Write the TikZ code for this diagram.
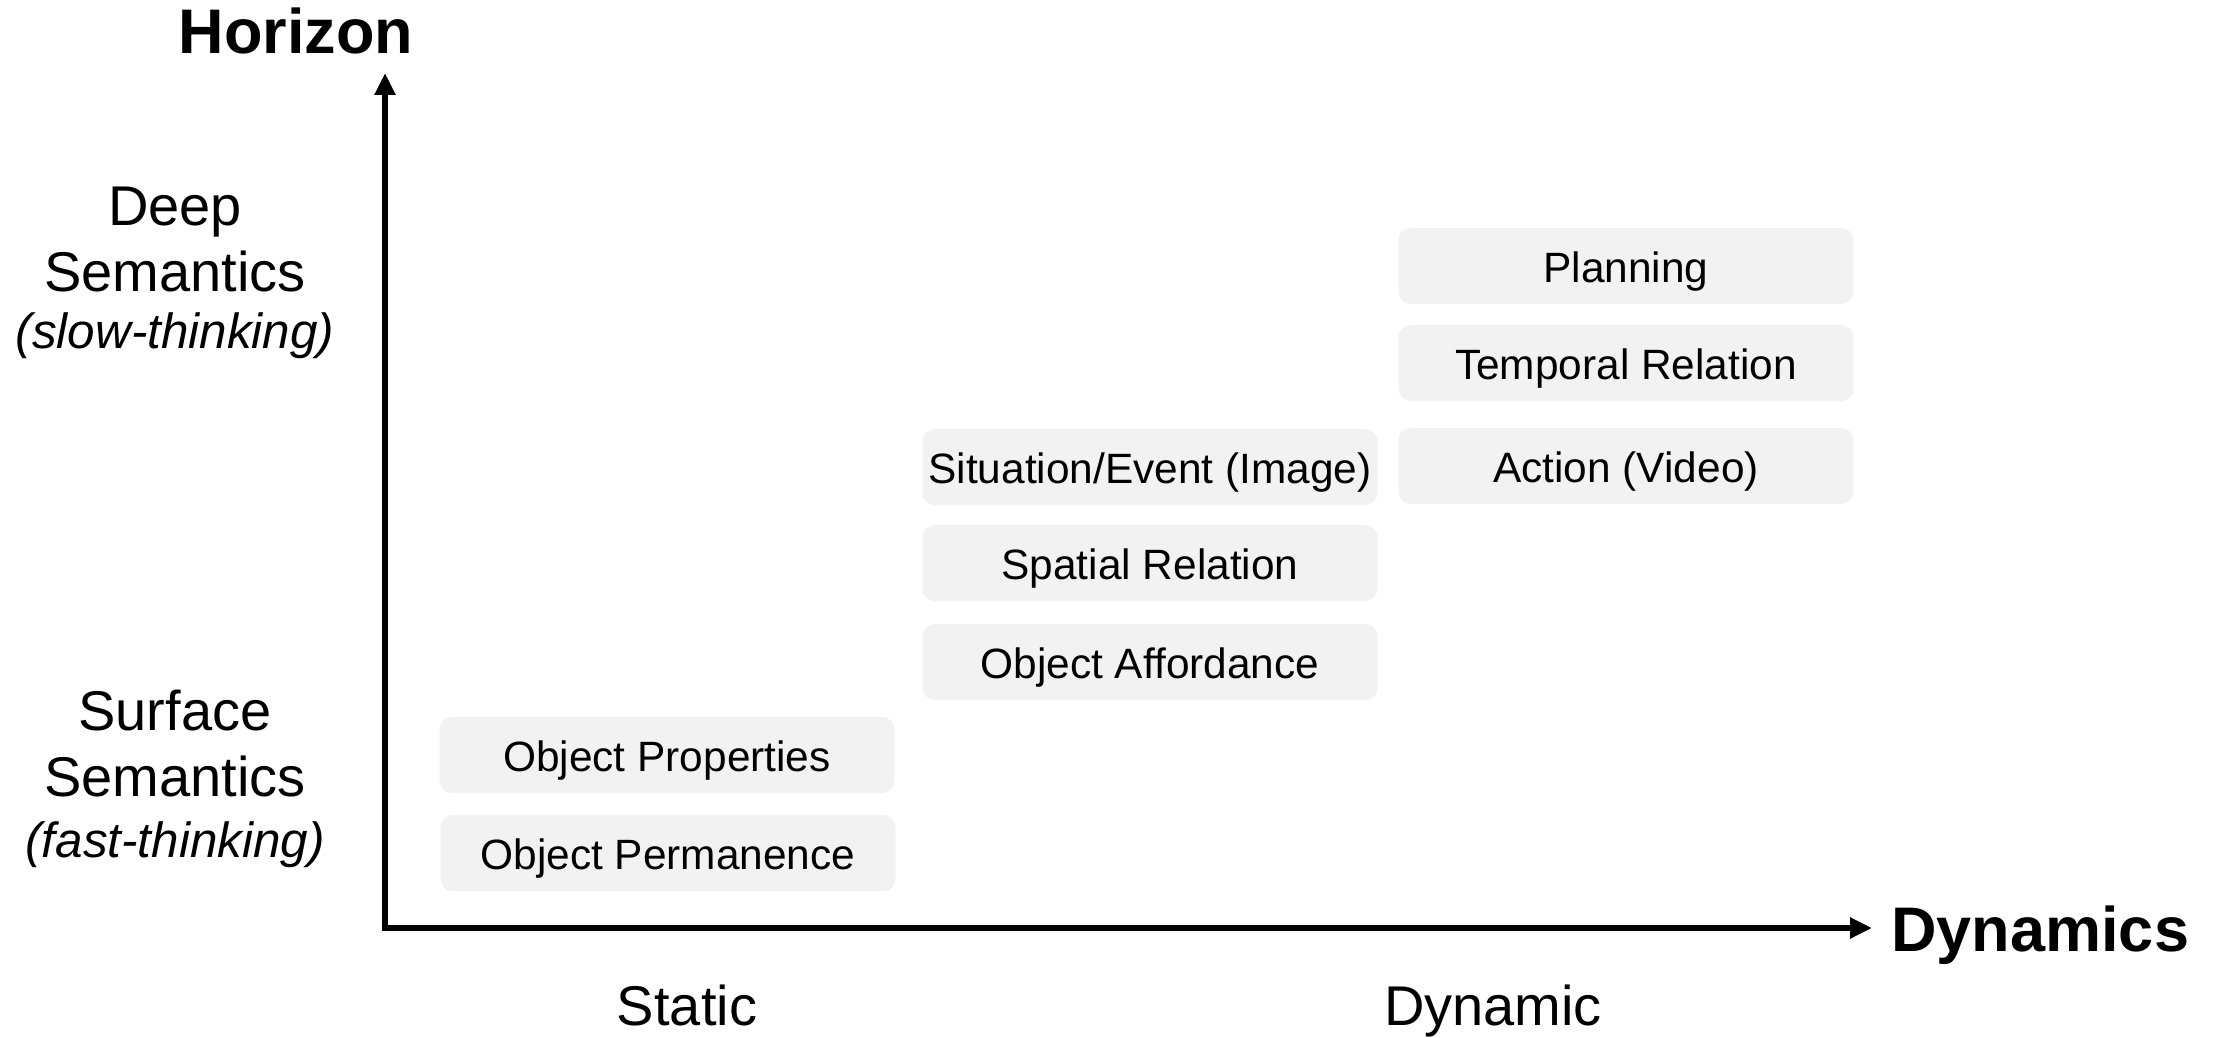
\documentclass[tikz,border=0pt]{standalone}
\usepackage{fontspec}
\setmainfont{Liberation Sans}
\usetikzlibrary{arrows.meta}
\definecolor{boxgray}{HTML}{F2F2F2}
\tikzset{
  axisline/.style={line width=2.8pt, {Triangle[length=11pt,width=10pt]}-{Triangle[length=11pt,width=10pt]}},
  axistitle/.style={font=\fontsize{31.5}{36}\selectfont\bfseries, inner sep=0pt},
  levellabel/.style={font=\fontsize{28}{33}\selectfont, inner sep=0pt, anchor=base},
  levelnote/.style={font=\fontsize{24.7}{29}\selectfont\itshape, inner sep=0pt, anchor=base},
  skillbox/.style={fill=boxgray, rounded corners=6pt, minimum width=227.5pt, minimum height=38pt,
    inner sep=2pt, text height=16.8pt, text depth=0pt, font=\fontsize{21.2}{25}\selectfont},
}
\begin{document}
\begin{tikzpicture}[x=0.5pt, y=-0.5pt]
\useasboundingbox (0,0) rectangle (2213,1038);

% axes
\coordinate (origin) at (385,928);
\coordinate (ytip) at (385,73);
\coordinate (xtip) at (1872,928);
\draw[axisline] (ytip) -- (origin) -- (xtip);

\node[axistitle, anchor=base] (horizon) at (296,54) {Horizon};
\node[axistitle, anchor=base west] (dynamics) at (1891,951) {Dynamics};

% x-axis categories
\node[levellabel] (static) at (687,1025) {Static};
\node[levellabel] (dynamic) at (1493,1025) {Dynamic};

% y-axis levels
\node[levellabel] (deep1) at (175,226) {Deep};
\node[levellabel] (deep2) at (175,291) {Semantics};
\node[levelnote] (deep3) at (175,348) {(slow-thinking)};
\node[levellabel] (surf1) at (175,730) {Surface};
\node[levellabel] (surf2) at (175,796) {Semantics};
\node[levelnote] (surf3) at (175,857) {(fast-thinking)};

% skills: static column
\node[skillbox] (props) at (667,755) {Object Properties};
\node[skillbox] (perm) at (668,853) {Object Permanence};

% skills: middle column
\node[skillbox] (afford) at (1150,662) {Object Affordance};
\node[skillbox] (spatial) at (1150,563) {Spatial Relation};
\node[skillbox] (situation) at (1150,467) {Situation/Event (Image)};

% skills: dynamic column
\node[skillbox] (action) at (1626,466) {Action (Video)};
\node[skillbox] (temporal) at (1626,363) {Temporal Relation};
\node[skillbox] (planning) at (1626,266) {Planning};
\end{tikzpicture}
\end{document}
